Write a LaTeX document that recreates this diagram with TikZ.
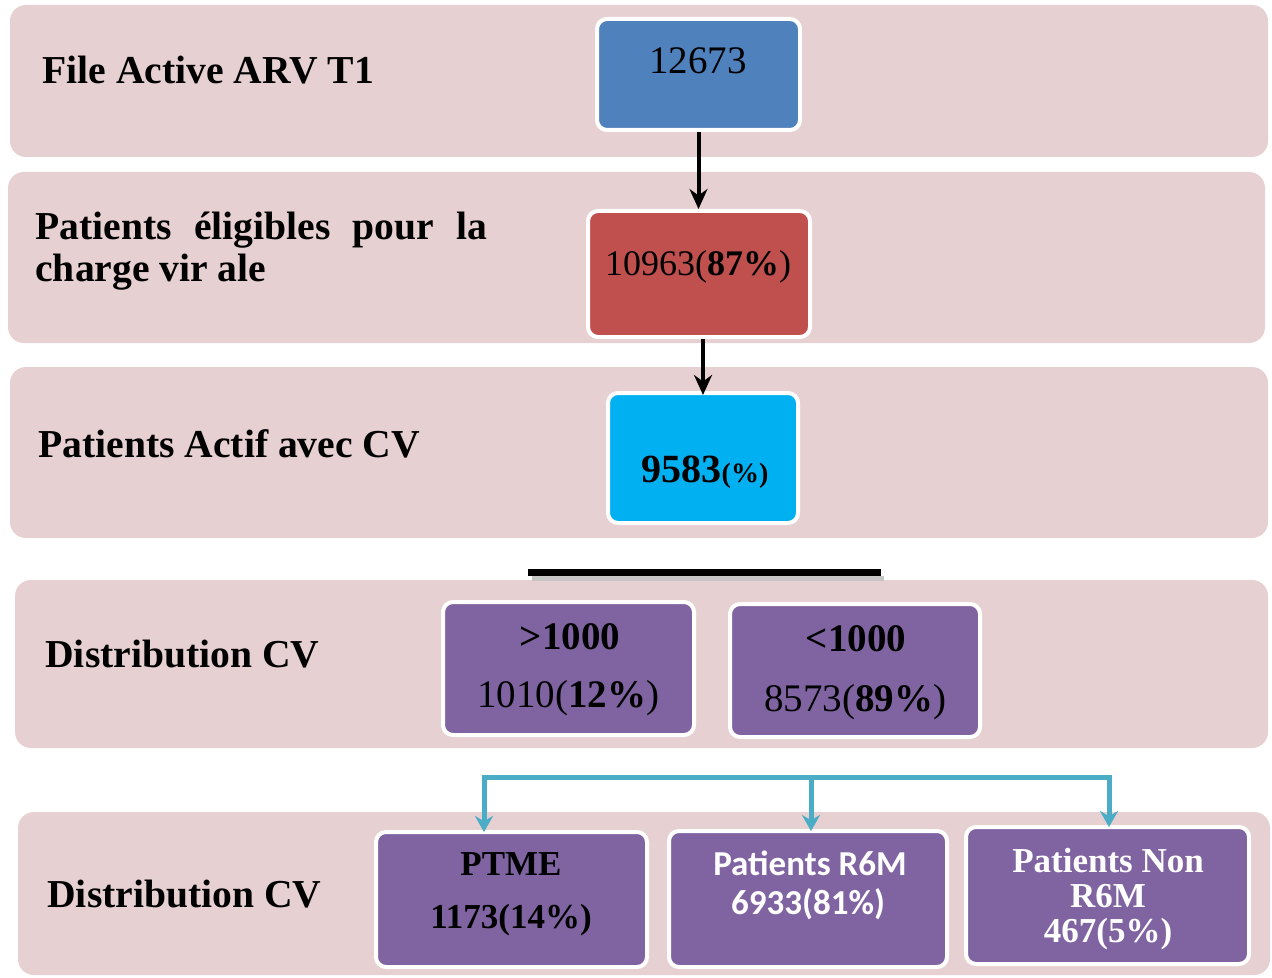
\documentclass[tikz,border=0pt]{standalone}
\usepackage{fontspec}
\setmainfont{Liberation Serif}
\newfontfamily\calib{Carlito}
\usetikzlibrary{arrows.meta}
\definecolor{bandpink}{RGB}{231,208,209}
\definecolor{cblue}{RGB}{79,129,189}
\definecolor{cred}{RGB}{192,80,77}
\definecolor{ccyan}{RGB}{0,176,240}
\definecolor{cpurple}{RGB}{128,100,162}
\definecolor{cteal}{RGB}{75,172,198}
\begin{document}
\begin{tikzpicture}[x=0.5pt,y=-0.5pt,
  band/.style={fill=bandpink, draw=none, rounded corners=8pt},
  box/.style={draw=white, line width=2pt, rounded corners=5pt, inner sep=0pt},
  lbl/.style={anchor=base west, font=\fontsize{19.8}{24}\selectfont\bfseries, inner sep=0pt},
  num/.style={anchor=base, inner sep=0pt},
  blk/.style={line width=2pt, -{Stealth[length=10pt,width=9pt]}},
  tl/.style={cteal, line width=2.5pt},
  tla/.style={tl, -{Stealth[length=8pt,width=9pt]}}]
\useasboundingbox (0,0) rectangle (1272,978);
\fill[white] (0,0) rectangle (1272,978);
% bands
\draw[band] (10,5) rectangle (1268,157);
\draw[band] (8,172) rectangle (1265,343);
\draw[band] (10,367) rectangle (1268,538);
\draw[band] (15,580) rectangle (1268,748);
\draw[band] (18,812) rectangle (1270,975);
% boxes
\node[box, fill=cblue, minimum width=101.5pt, minimum height=55.5pt] (b1) at (698.5,74.5) {};
\node[box, fill=cred, minimum width=111pt, minimum height=63pt] (b2) at (699,274) {};
\node[box, fill=ccyan, minimum width=95pt, minimum height=65pt] (b3) at (703,458) {};
\node[box, fill=cpurple, minimum width=125.5pt, minimum height=66.5pt] (b4) at (568.5,668.5) {};
\node[box, fill=cpurple, minimum width=125pt, minimum height=66.5pt] (b5) at (855,670.5) {};
\node[box, fill=cpurple, minimum width=135.5pt, minimum height=67.5pt] (b6) at (511.5,899.5) {};
\node[box, fill=cpurple, minimum width=139pt, minimum height=68pt] (b7) at (808,899) {};
\node[box, fill=cpurple, minimum width=141.5pt, minimum height=68.5pt] (b8) at (1107.5,895.5) {};
% black arrows
\draw[blk] (b1.south) -- (b1.south |- b2.north);
\draw[blk] (b2.south -| b3.north) -- ([yshift=-2pt]b3.north);
% black bar
\fill[gray!45] (532,576) rectangle (884,581);
\fill[black] (528,569) rectangle (881,576);
% teal connector
\coordinate (tL) at (484,777);
\coordinate (tM) at (811,777);
\coordinate (tR) at (1109,777);
\draw[tl] ([xshift=-1.25pt]tL) -- ([xshift=1.25pt]tR);
\draw[tla] (tL) -- ([yshift=-1pt]tL |- b6.north);
\draw[tla] (tM) -- ([yshift=-1pt]tM |- b7.north);
\draw[tla] (tR) -- ([yshift=-1pt]tR |- b8.north);
% left labels
\node[lbl] (t1) at (42,84) {File Active ARV T1};
\node[lbl] (t2a) at (35,240) {\makebox[226pt][s]{Patients éligibles pour la}};
\node[lbl] (t2b) at (35,282) {charge vir ale};
\node[lbl] (t3) at (38,457) {Patients Actif avec CV};
\node[lbl] (t4) at (45,667) {Distribution CV};
\node[lbl] (t5) at (47,907) {Distribution CV};
% box texts
\node[num, font=\fontsize{19.5}{22}\selectfont] (n1) at (698,74) {12673};
\node[num, font=\fontsize{18}{22}\selectfont] (n2) at (698,276) {10963(\textbf{87\%})};
\node[num, font=\fontsize{20}{22}\selectfont\bfseries] (n3) at (705,482) {9583{\fontsize{14}{16}\selectfont(\%)}};
\node[num, font=\fontsize{19.5}{22}\selectfont\bfseries] (n4a) at (570,649) {>1000};
\node[num, font=\fontsize{19.5}{22}\selectfont] (n4b) at (568,707) {1010(\textbf{12\%})};
\node[num, font=\fontsize{19.5}{22}\selectfont\bfseries] (n5a) at (856,651) {<1000};
\node[num, font=\fontsize{19.5}{22}\selectfont] (n5b) at (855,711) {8573(\textbf{89\%})};
\node[num, font=\fontsize{17.5}{20}\selectfont\bfseries] (n6a) at (511,875) {PTME};
\node[num, font=\fontsize{17.5}{20}\selectfont\bfseries] (n6b) at (511,928) {1173(14\%)};
\node[num, font=\fontsize{17.5}{20}\selectfont\bfseries\calib, text=white] (n7a) at (810,875) {Patients R6M};
\node[num, font=\fontsize{17.5}{20}\selectfont\bfseries\calib, text=white] (n7b) at (808,914) {6933(81\%)};
\node[num, font=\fontsize{17.5}{20}\selectfont\bfseries, text=white] (n8a) at (1108,872) {Patients Non};
\node[num, font=\fontsize{17.5}{20}\selectfont\bfseries, text=white] (n8b) at (1108,907) {R6M};
\node[num, font=\fontsize{17.5}{20}\selectfont\bfseries, text=white] (n8c) at (1108,942) {467(5\%)};
\end{tikzpicture}
\end{document}
